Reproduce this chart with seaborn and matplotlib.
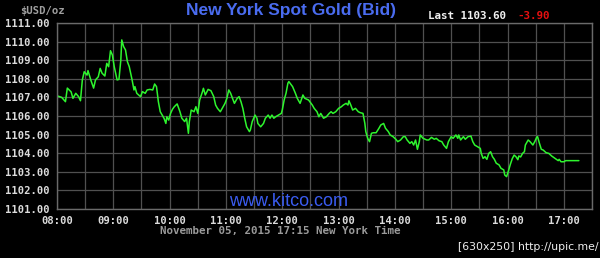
import matplotlib
matplotlib.use("Agg")
import matplotlib.pyplot as plt
import seaborn as sns
import pandas as pd

# Minutes after 08:00 (New York time) and bid price in USD/oz
minutes = [1, 5, 9, 11, 15, 17, 20, 23, 25, 27, 29, 32, 33, 36, 39, 41, 44, 46, 48, 51,
           53, 55, 57, 59, 61, 64, 66, 68, 69, 71, 73, 75, 77, 80, 82, 83, 85, 89, 91, 94,
           96, 99, 102, 104, 106, 108, 110, 112, 114, 116, 117, 119, 121, 123, 125, 128, 131, 133, 136, 138,
           140, 141, 143, 146, 148, 150, 152, 155, 156, 158, 161, 164, 167, 169, 171, 174, 176, 179, 181, 183,
           185, 187, 189, 192, 194, 196, 198, 200, 202, 205, 206, 208, 211, 213, 214, 217, 220, 222, 225, 227,
           229, 231, 233, 236, 239, 240, 242, 244, 246, 247, 251, 254, 256, 259, 262, 264, 268, 272, 274, 277,
           279, 281, 284, 287, 290, 292, 294, 297, 300, 303, 305, 308, 310, 311, 313, 315, 318, 321, 323, 326,
           328, 329, 331, 333, 335, 337, 340, 343, 345, 348, 350, 353, 355, 358, 361, 363, 366, 369, 371, 373,
           376, 378, 380, 382, 384, 386, 387, 390, 394, 396, 399, 402, 404, 407, 410, 412, 415, 417, 420, 422,
           425, 427, 428, 430, 433, 435, 438, 441, 443, 445, 448, 451, 452, 454, 456, 458, 460, 462, 464, 466,
           468, 471, 473, 476, 477, 479, 481, 483, 485, 487, 489, 491, 492, 494, 496, 498, 499, 502, 504, 507,
           509, 511, 512, 514, 516, 518, 521, 524, 527, 529, 532, 534, 535, 537, 540, 542, 556]
prices = [1107.07, 1107.00, 1106.77, 1107.50, 1107.30, 1106.95, 1107.22, 1107.04, 1106.82, 1107.94,
          1108.38, 1108.20, 1108.44, 1107.94, 1107.50, 1107.94, 1108.11, 1108.56, 1108.30, 1108.15,
          1108.83, 1108.65, 1109.51, 1109.28, 1108.65, 1107.94, 1107.97, 1109.01, 1110.09, 1109.73,
          1109.55, 1108.92, 1108.65, 1107.94, 1107.40, 1107.58, 1107.22, 1107.04, 1107.31, 1107.22,
          1107.40, 1107.43, 1107.40, 1107.72, 1107.58, 1106.77, 1106.23, 1106.05, 1105.88, 1105.60,
          1105.96, 1105.78, 1106.14, 1106.36, 1106.50, 1106.65, 1106.23, 1105.88, 1105.70, 1105.88,
          1105.07, 1105.70, 1106.32, 1106.23, 1106.50, 1106.14, 1106.86, 1107.31, 1107.49, 1107.13,
          1107.43, 1107.36, 1107.04, 1106.59, 1106.41, 1106.23, 1106.41, 1106.68, 1106.95, 1107.40,
          1107.22, 1106.95, 1106.68, 1106.95, 1107.04, 1106.77, 1106.41, 1105.88, 1105.42, 1105.16,
          1105.25, 1105.70, 1106.05, 1105.88, 1105.60, 1105.42, 1105.60, 1105.88, 1106.05, 1105.88,
          1106.05, 1105.88, 1105.96, 1106.05, 1106.14, 1106.32, 1106.86, 1107.22, 1107.76, 1107.85,
          1107.58, 1107.22, 1106.95, 1106.68, 1107.13, 1106.95, 1106.86, 1106.59, 1106.41, 1106.23,
          1105.96, 1106.14, 1105.88, 1105.96, 1106.14, 1106.23, 1106.14, 1106.23, 1106.41, 1106.50,
          1106.59, 1106.68, 1106.59, 1106.82, 1106.59, 1106.32, 1106.41, 1106.23, 1106.18, 1106.14,
          1105.60, 1105.16, 1104.80, 1104.62, 1105.07, 1105.10, 1105.10, 1105.34, 1105.52, 1105.60,
          1105.34, 1105.16, 1104.98, 1104.89, 1104.75, 1104.62, 1104.71, 1104.89, 1104.89, 1104.71,
          1104.53, 1104.62, 1104.44, 1104.71, 1104.21, 1104.62, 1104.98, 1104.80, 1104.71, 1104.71,
          1104.85, 1104.75, 1104.80, 1104.67, 1104.62, 1104.44, 1104.26, 1104.62, 1104.89, 1104.80,
          1104.98, 1104.80, 1104.98, 1104.71, 1104.89, 1104.75, 1104.89, 1104.92, 1104.62, 1104.44,
          1104.35, 1104.26, 1103.99, 1103.72, 1103.81, 1103.67, 1103.99, 1104.08, 1103.81, 1103.67,
          1103.46, 1103.37, 1103.19, 1103.10, 1102.83, 1102.74, 1103.05, 1103.40, 1103.70, 1103.90,
          1103.81, 1103.65, 1103.85, 1103.80, 1103.99, 1104.08, 1104.44, 1104.71, 1104.62, 1104.44,
          1104.62, 1104.85, 1104.89, 1104.53, 1104.21, 1104.17, 1104.03, 1103.99, 1103.85, 1103.78,
          1103.67, 1103.60, 1103.67, 1103.54, 1103.54, 1103.60, 1103.60]

x_tick_labels = ["08:00", "09:00", "10:00", "11:00", "12:00", "13:00",
                 "14:00", "15:00", "16:00", "17:00"]
y_tick_values = [1101, 1102, 1103, 1104, 1105, 1106, 1107, 1108, 1109, 1110, 1111]
title_text = "New York Spot Gold (Bid)"
unit_text = "$USD/oz"
last_text = "Last 1103.60"
change_text = "-3.90"
site_text = "www.kitco.com"
stamp_text = "November 05, 2015 17:15 New York Time"
credit_text = "[630x250] http://upic.me/"

df = pd.DataFrame({"minutes": minutes, "price": prices})

sns.set_style("dark", {"axes.facecolor": "black", "figure.facecolor": "black"})
plt.rcParams["font.family"] = ["DejaVu Sans Mono", "DejaVu Sans"]

W, H = 600, 258
fig = plt.figure(figsize=(6, 2.58), dpi=100, facecolor="black")
ax = fig.add_axes([57 / W, 1 - 209 / H, 535 / W, 186 / H])
ax.set_facecolor("black")

sns.lineplot(data=df, x="minutes", y="price", ax=ax, color="#2ef52e",
             linewidth=1.1, estimator=None, sort=False)

ax.set_xlim(0, 570)
ax.set_ylim(1101, 1111)
ax.set_xticks([60 * i for i in range(len(x_tick_labels))])
ax.set_xticklabels(x_tick_labels)
ax.set_xticks([30 + 60 * i for i in range(len(x_tick_labels))], minor=True)
ax.set_yticks(y_tick_values)
ax.set_yticklabels([f"{v:.2f}" for v in y_tick_values])

ax.grid(True, which="both", color="#505050", linewidth=0.9)
ax.set_axisbelow(True)
for s in ax.spines.values():
    s.set_visible(True)
    s.set_color("#6a6a6a")
    s.set_linewidth(1.0)

ax.tick_params(axis="both", which="both", length=0, colors="#dcdcdc",
               labelsize=7.6)
ax.tick_params(axis="x", pad=5)
ax.tick_params(axis="y", pad=5)
for lab in ax.get_xticklabels() + ax.get_yticklabels():
    lab.set_fontweight("bold")
ax.set_xlabel("")
ax.set_ylabel("")

def fx(px):
    return px / W

def fy(py):
    return 1 - py / H

fig.text(fx(291), fy(11), title_text, ha="center", va="center",
         family=["Liberation Sans", "DejaVu Sans"], fontweight="bold",
         fontsize=12.5, color="#4a6cf0")
fig.text(fx(20), fy(11), unit_text, ha="left", va="center",
         fontsize=7.6, color="#a0a0a0", fontweight="bold")
fig.text(fx(428), fy(16), last_text, ha="left", va="center",
         fontsize=7.8, color="#f0f0f0", fontweight="bold")
fig.text(fx(517), fy(16), change_text, ha="left", va="center",
         fontsize=7.8, color="#e51010", fontweight="bold")
fig.text(fx(289), fy(202), site_text, ha="center", va="center",
         family=["Liberation Sans", "DejaVu Sans"], fontsize=13,
         color="#3a5cf0")
fig.text(fx(280), fy(231), stamp_text, ha="center", va="center",
         fontsize=7.8, color="#9a9a9a", fontweight="bold")
fig.text(fx(599), fy(247), credit_text, ha="right", va="center",
         family=["DejaVu Sans"], fontsize=7.8, color="#f0f0f0")

fig.savefig("out.png", dpi=100, facecolor="black")
